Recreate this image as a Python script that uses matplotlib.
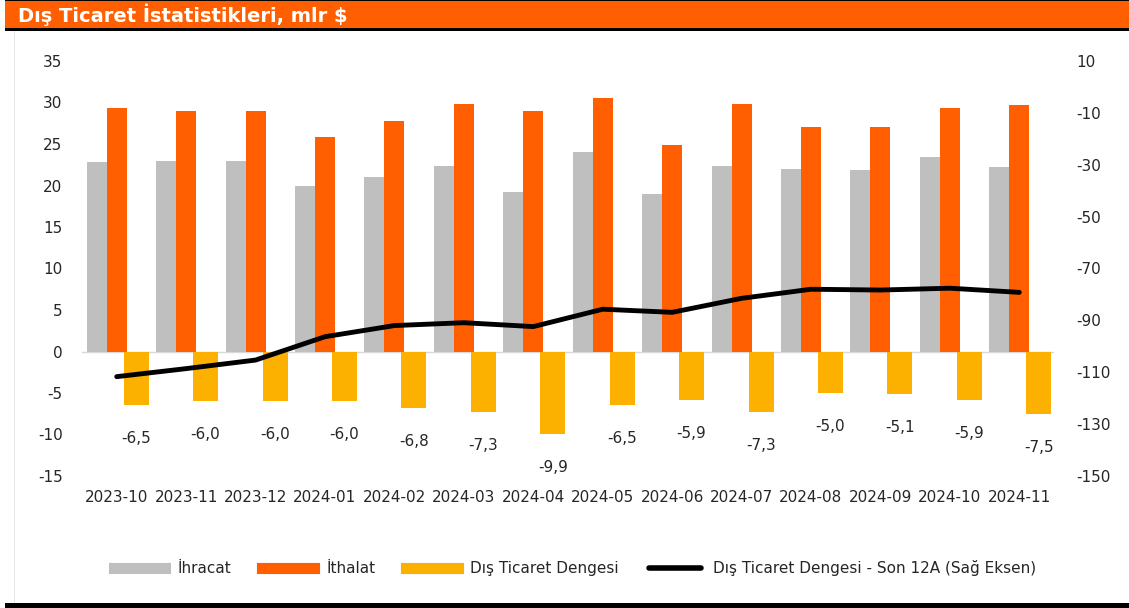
import matplotlib
matplotlib.use("Agg")
import matplotlib.pyplot as plt
from matplotlib.patches import Rectangle
from matplotlib.lines import Line2D
import numpy as np

# --- Daten (mlr $) ---
donemler = ["2023-10", "2023-11", "2023-12", "2024-01", "2024-02", "2024-03", "2024-04",
            "2024-05", "2024-06", "2024-07", "2024-08", "2024-09", "2024-10", "2024-11"]
ihracat = [22.8, 23.0, 23.0, 19.9, 21.0, 22.4, 19.2, 24.0, 19.0, 22.4, 22.0, 21.9, 23.4, 22.2]
ithalat = [29.3, 29.0, 29.0, 25.9, 27.8, 29.8, 29.0, 30.5, 24.9, 29.8, 27.0, 27.0, 29.3, 29.7]
denge = [-6.5, -6.0, -6.0, -6.0, -6.8, -7.3, -9.9, -6.5, -5.9, -7.3, -5.0, -5.1, -5.9, -7.5]
denge_12a = [-111.7, -108.6, -105.3, -96.3, -92.0, -90.9, -92.4,
             -85.7, -86.9, -81.5, -78.0, -78.3, -77.6, -79.2]

GRI = "#BFBFBF"
TURUNCU = "#FF5F00"
SARI = "#FCB100"
YAZI = "#262626"

plt.rcParams["font.family"] = ["DejaVu Sans"]
plt.rcParams["axes.unicode_minus"] = False

fig = plt.figure(figsize=(11.29, 6.08), dpi=100)
W, H = 1129, 608

# Başlık bandı + çerçeve çizgileri
fig.patches.append(Rectangle((5 / W, 1 - 28 / H), 1 - 5 / W, 27 / H, transform=fig.transFigure,
                             facecolor=TURUNCU, edgecolor="none"))
fig.patches.append(Rectangle((5 / W, 1 - 31 / H), 1 - 5 / W, 3 / H, transform=fig.transFigure,
                             facecolor="black", edgecolor="none"))
fig.patches.append(Rectangle((5 / W, 1 - 1 / H), 1 - 5 / W, 1 / H, transform=fig.transFigure,
                             facecolor="black", edgecolor="none"))
fig.patches.append(Rectangle((5 / W, 0), 1 - 5 / W, 5 / H, transform=fig.transFigure,
                             facecolor="black", edgecolor="none"))
fig.patches.append(Rectangle((14 / W, 5 / H), 1 / W, 1 - 36 / H, transform=fig.transFigure,
                             facecolor="#E6E6E6", edgecolor="none"))
fig.text(18 / W, 1 - 14.5 / H, "Dış Ticaret İstatistikleri, mlr $", color="white",
         fontsize=14, fontweight="bold", va="center", ha="left")

ax = fig.add_axes([82 / W, 1 - 476 / H, 972 / W, 415 / H])
ax2 = ax.twinx()

x = np.arange(len(donemler))
ax.bar(x - 0.288, ihracat, width=0.288, color=GRI, zorder=2)
ax.bar(x, ithalat, width=0.288, color=TURUNCU, zorder=2)
ax.bar(x + 0.28, denge, width=0.36, color=SARI, zorder=2)
ax.axhline(0, color="#D9D9D9", lw=1, zorder=1)

for xi, v in zip(x, denge):
    ax.annotate(f"{v:.1f}".replace(".", ","), (xi + 0.28, v), xytext=(0, -24),
                textcoords="offset points", ha="center", va="center",
                fontsize=11, color=YAZI)

ax.set_xlim(-0.5, len(donemler) - 0.5)
ax.set_ylim(-15, 35)
ax.set_yticks(range(-15, 36, 5))
ax.set_xticks(x)
ax.set_xticklabels(donemler)

ax2.plot(x, denge_12a, color="black", lw=3.5, solid_capstyle="round", zorder=3)
ax2.set_ylim(-150, 10)
ax2.set_yticks(range(-150, 11, 20))

for a in (ax, ax2):
    for s in a.spines.values():
        s.set_visible(False)
    a.tick_params(length=0, labelsize=11, colors=YAZI)
ax.tick_params(axis="y", pad=14)
ax.tick_params(axis="x", pad=10)
ax2.tick_params(axis="y", pad=16)

# çizgi çubukların üstünde
ax.set_zorder(1)
ax2.set_zorder(2)
ax2.patch.set_visible(False)

handles = [
    Line2D([], [], color=GRI, lw=8),
    Line2D([], [], color=TURUNCU, lw=8),
    Line2D([], [], color=SARI, lw=8),
    Line2D([], [], color="black", lw=4, solid_capstyle="round"),
]
labels = ["İhracat", "İthalat", "Dış Ticaret Dengesi", "Dış Ticaret Dengesi - Son 12A (Sağ Eksen)"]
fig.legend(handles, labels, loc="center", bbox_to_anchor=(575 / W, 1 - 568 / H), ncol=4,
           frameon=False, fontsize=11, handlelength=3.4, handletextpad=0.8,
           columnspacing=2.0, labelcolor=YAZI)

fig.savefig("out.png", dpi=100)
